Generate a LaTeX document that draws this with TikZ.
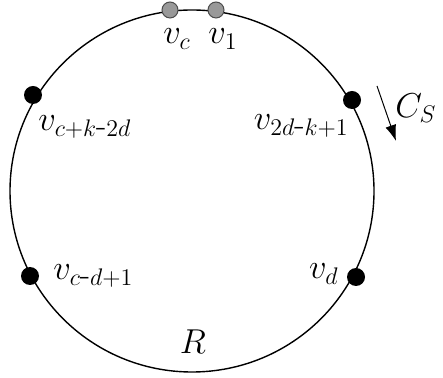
\documentclass[tikz,border=0pt]{standalone}
\usetikzlibrary{arrows.meta}
\begin{document}
\begin{tikzpicture}[x=0.5pt,y=-0.5pt,
  grayv/.style={circle,draw=black!70,fill=black!40,line width=0.5pt,inner sep=0pt,minimum size=8pt},
  blackv/.style={circle,fill=black,inner sep=0pt,minimum size=9pt},
  lbl/.style={inner sep=0pt,font=\fontsize{17}{19}\selectfont}]
\useasboundingbox (0,0) rectangle (443,378);
\draw[line width=0.7pt] (192,191) ellipse [x radius=91pt, y radius=90.5pt];
\node[grayv] (vc) at (170,10) {};
\node[grayv] (v1) at (216,10) {};
\node[blackv] (a) at (33,95) {};
\node[blackv] (b) at (352,100) {};
\node[blackv] (c) at (30,276) {};
\node[blackv] (d) at (356,277) {};
\node[lbl] (lvc) at (177,39) {$v_c$};
\node[lbl] (lv1) at (223,39) {$v_1$};
\node[lbl,anchor=west] (la) at (38,127) {$v_{c+k\mbox{-}2d}$};
\node[lbl,anchor=east] (lb) at (349,126) {$v_{2d\mbox{-}k+1}$};
\node[lbl,anchor=west] (lc) at (53,276) {$v_{c\mbox{-}d+1}$};
\node[lbl,anchor=east] (ld) at (339,274) {$v_d$};
\node[lbl,font=\fontsize{19}{21}\selectfont] (lR) at (193,342) {$R$};
\node[lbl,font=\fontsize{18}{20}\selectfont] (lCS) at (416,108) {$C_S$};
\coordinate (s) at (377,86);
\coordinate (e) at (396,141);
\draw[-{Latex[length=8pt,width=5.5pt]},line width=0.5pt] (s) -- (e);
\end{tikzpicture}
\end{document}
